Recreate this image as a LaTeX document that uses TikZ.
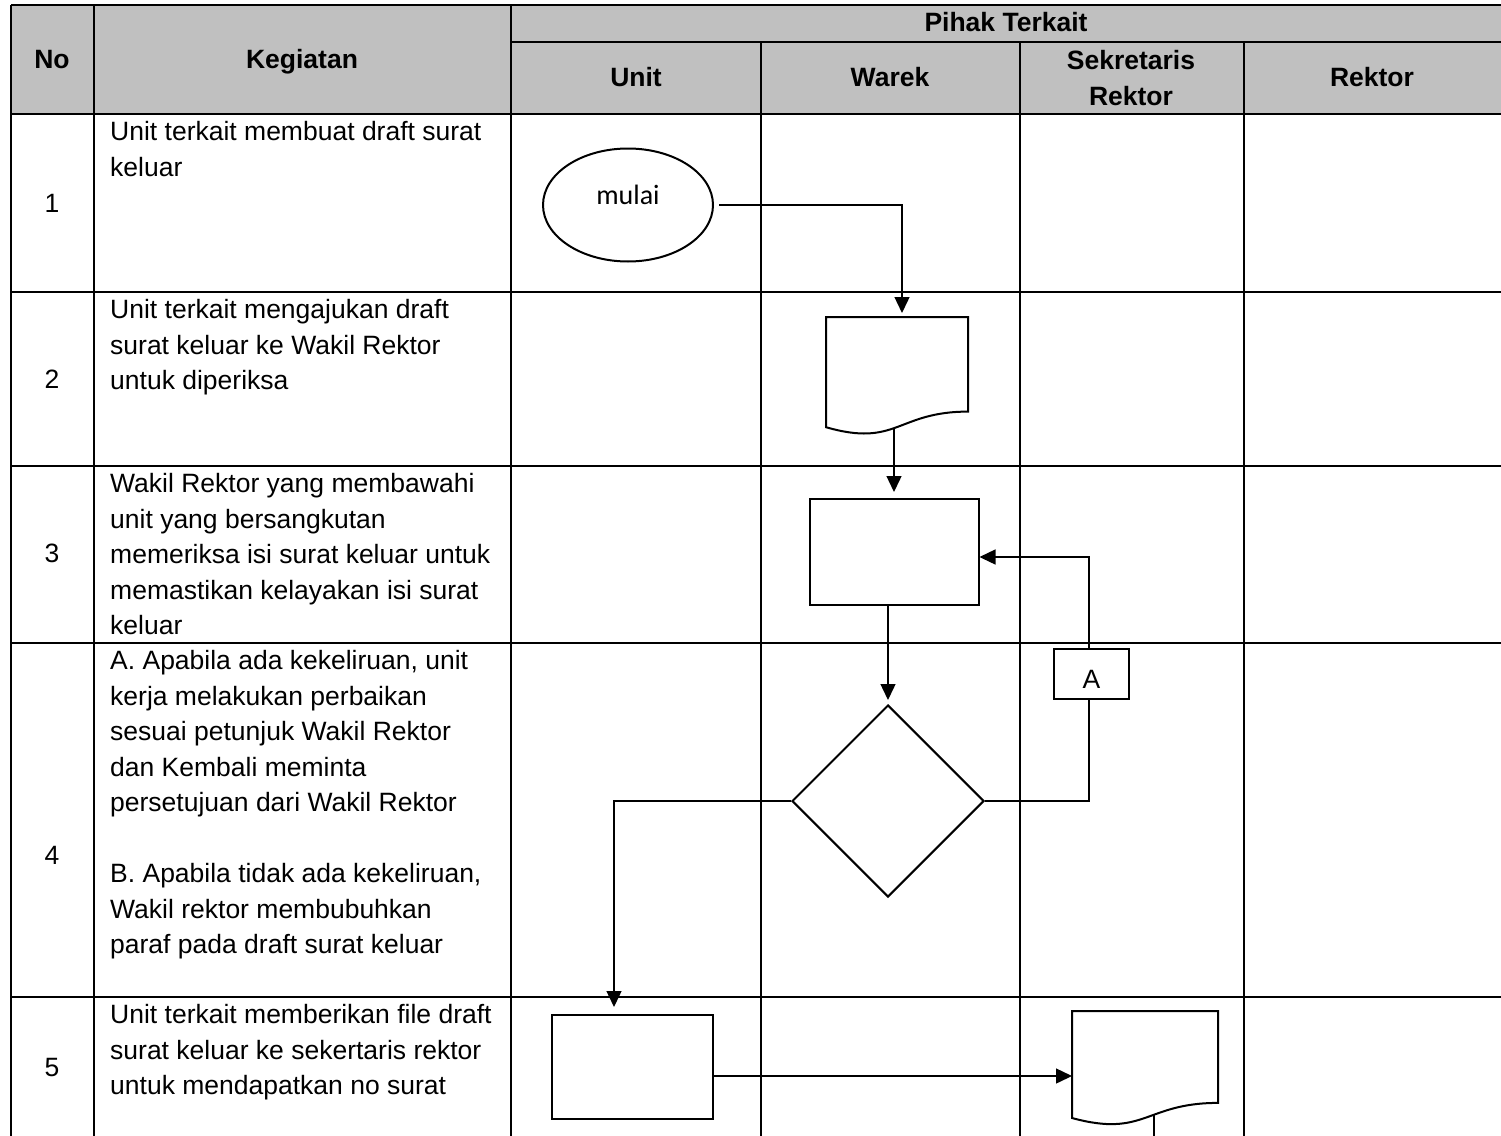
\documentclass[tikz,border=0pt]{standalone}
\usepackage{fontspec}
\setmainfont{Liberation Sans}
\newfontfamily\calfont{Carlito}
\usetikzlibrary{arrows.meta,shapes.geometric}
\begin{document}
\begin{tikzpicture}[x=1pt,y=-1pt,
  gridline/.style={line width=2.8pt},
  shp/.style={draw, line width=2pt, fill=white, inner sep=0pt},
  conn/.style={line width=1.4pt},
  arr/.style={conn, -{Triangle[length=16pt,width=15pt]}},
  body/.style={font=\fontsize{26.5}{32}\selectfont, inner sep=0pt, anchor=base west},
  num/.style={font=\fontsize{26.5}{32}\selectfont, inner sep=0pt, anchor=base},
  hdr/.style={font=\bfseries\fontsize{26.5}{32}\selectfont, inner sep=0pt, anchor=base}]
\useasboundingbox (0,0) rectangle (1501,1135);
% header background
\fill[fill={rgb,255:red,192;green,192;blue,192}] (11,5) rectangle (1501,114);
% grid
\draw[gridline] (11,5) -- (1501,5);
\draw[gridline] (511,42) -- (1501,42);
\foreach \yy in {114,292,466,643,997} \draw[gridline] (11,\yy) -- (1501,\yy);
\foreach \xx in {11,94,511} \draw[gridline] (\xx,5) -- (\xx,1140);
\foreach \xx in {761,1020,1244} \draw[gridline] (\xx,42) -- (\xx,1140);
% header texts
\node[hdr] (hNo) at (52,68.5) {No};
\node[hdr] (hKeg) at (302,68.5) {Kegiatan};
\node[hdr] (hPihak) at (1006,31.5) {Pihak Terkait};
\node[hdr] (hUnit) at (636,86.5) {Unit};
\node[hdr] (hWarek) at (890,86.5) {Warek};
\node[hdr] (hSek) at (1131,69.5) {Sekretaris};
\node[hdr] (hSekR) at (1131,105.5) {Rektor};
\node[hdr] (hRek) at (1372,86.5) {Rektor};
% numbers
\node[num] (n1) at (52,212.5) {1};
\node[num] (n2) at (52,388.5) {2};
\node[num] (n3) at (52,562.5) {3};
\node[num] (n4) at (52,864.5) {4};
\node[num] (n5) at (52,1076.5) {5};
% activity texts
\node[body] (r1a) at (110,140.5) {Unit terkait membuat draft surat};
\node[body] (r1b) at (110,176) {keluar};
\node[body] (r2a) at (110,318.5) {Unit terkait mengajukan draft};
\node[body] (r2b) at (110,354) {surat keluar ke Wakil Rektor};
\node[body] (r2c) at (110,389.5) {untuk diperiksa};
\node[body] (r3a) at (110,492.5) {Wakil Rektor yang membawahi};
\node[body] (r3b) at (110,528) {unit yang bersangkutan};
\node[body] (r3c) at (110,563.5) {memeriksa isi surat keluar untuk};
\node[body] (r3d) at (110,599) {memastikan kelayakan isi surat};
\node[body] (r3e) at (110,634.5) {keluar};
\node[body] (r4a) at (110,669.5) {A. Apabila ada kekeliruan, unit};
\node[body] (r4b) at (110,705) {kerja melakukan perbaikan};
\node[body] (r4c) at (110,740.5) {sesuai petunjuk Wakil Rektor};
\node[body] (r4d) at (110,776) {dan Kembali meminta};
\node[body] (r4e) at (110,811.5) {persetujuan dari Wakil Rektor};
\node[body] (r4f) at (110,882.5) {B. Apabila tidak ada kekeliruan,};
\node[body] (r4g) at (110,918) {Wakil rektor membubuhkan};
\node[body] (r4h) at (110,953.5) {paraf pada draft surat keluar};
\node[body] (r5a) at (110,1023.5) {Unit terkait memberikan file draft};
\node[body] (r5b) at (110,1059) {surat keluar ke sekertaris rektor};
\node[body] (r5c) at (110,1094.5) {untuk mendapatkan no surat};
% shapes
\node[shp, ellipse, minimum width=170pt, minimum height=113pt] (mulai) at (628,205) {};
\node[font=\calfont\fontsize{28}{32}\selectfont, inner sep=0pt, anchor=base] (mulaitxt) at (628,204) {mulai};
% document 1 (Warek)
\draw[line width=2pt, fill=white] (826,317) -- (968,317) -- (968,411.6)
  .. controls (897,411.6) and (897,447.7) .. (826,427.2) -- cycle;
\coordinate (doc1top) at (902,317);
\coordinate (doc1bot) at (894,428);
\node[shp, minimum width=169pt, minimum height=106pt] (periksa) at (894,552) {};
\node[shp, diamond, shape aspect=1, minimum width=192pt, minimum height=192pt] (dec) at (888,801) {};
\node[shp, line width=2.4pt, minimum width=75pt, minimum height=50pt] (A) at (1091.5,674) {};
\node[font=\fontsize{26.5}{32}\selectfont, inner sep=0pt] (Atxt) at (1091.5,679) {A};
\node[shp, minimum width=161pt, minimum height=104pt] (unitbox) at (632.5,1067) {};
% document 2 (Sekretaris)
\draw[line width=2pt, fill=white] (1072,1011) -- (1218,1011) -- (1218,1102.9)
  .. controls (1145,1102.9) and (1145,1137.9) .. (1072,1118) -- cycle;
\coordinate (doc2left) at (1072,1076);
\coordinate (doc2bot) at (1154,1115);
\coordinate (doc2end) at (1154,1140);
% helper coordinates
\coordinate (ax) at (1089,0);
\coordinate (fb) at (0,557);
\coordinate (ux) at (614,0);
\coordinate (uy) at (0,1076);
% connectors
\draw[arr] ([xshift=5pt]mulai.east) -| ([yshift=4pt]doc1top);
\draw[arr] (doc1bot) -- ([yshift=6pt]periksa.north);
\draw[arr] (periksa.south -| dec.north) -- ([yshift=4pt]dec.north);
\draw[conn] (dec.east) -| (ax |- A.south);
\draw[arr] (ax |- A.north) |- (periksa.east |- fb);
\draw[arr] (dec.west) -| ([yshift=7pt]ux |- unitbox.north);
\draw[arr] (unitbox.east |- uy) -- (doc2left);
\draw[conn] (doc2bot) -- (doc2end);
\end{tikzpicture}
\end{document}
